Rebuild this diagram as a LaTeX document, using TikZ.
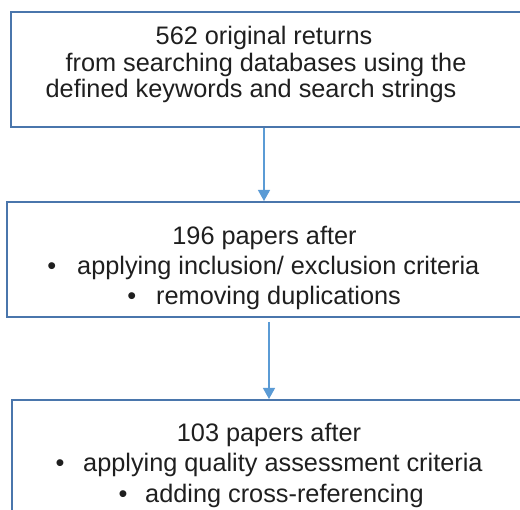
\documentclass[tikz,border=0pt]{standalone}
\usepackage{fontspec}
\setmainfont{Liberation Sans}
\usetikzlibrary{arrows.meta}
\definecolor{boxblue}{HTML}{4A76AC}
\definecolor{arrowblue}{HTML}{5B9BD5}
\begin{document}
\begin{tikzpicture}[x=1pt,y=-1pt,
  stagebox/.style={draw=boxblue, line width=2pt, fill=white, inner sep=0pt, anchor=north west},
  txt/.style={font=\fontsize{25.3}{28}\selectfont, inner sep=0pt, text=black!88},
  ctr/.style={txt, anchor=base},
  lft/.style={txt, anchor=base west},
  flow/.style={draw=arrowblue, line width=1.2pt, -{Triangle[width=12pt,length=11pt]}}]
\useasboundingbox (0,0) rectangle (520,510);
\clip (0,0) rectangle (520,510);
\fill[white] (0,0) rectangle (520,510);

% the three stages, running off the right and bottom edges
\node[stagebox, minimum width=530pt, minimum height=115pt] (b1) at (10,11) {};
\node[stagebox, minimum width=535pt, minimum height=115pt] (b2) at (5.5,201) {};
\node[stagebox, minimum width=530pt, minimum height=140pt] (b3) at (10.5,399) {};

% stage 1
\node[ctr] (t11) at (264,45) {562 original returns};
\node[ctr] (t12) at (266,71.5) {from searching databases using the};
\node[ctr] (t13) at (251,98) {defined keywords and search strings};

% stage 2
\node[ctr] (t21) at (264.5,245) {196 papers after};
\node[ctr] (u22) at (51.7,275) {•};
\node[lft] (t22) at (77,275) {applying inclusion/ exclusion criteria};
\node[ctr] (u23) at (131.7,305) {•};
\node[lft] (t23) at (156,305) {removing duplications};

% stage 3
\node[ctr] (t31) at (269,442) {103 papers after};
\node[ctr] (u32) at (60,472) {•};
\node[lft] (t32) at (83,472) {applying quality assessment criteria};
\node[ctr] (u33) at (123,502.5) {•};
\node[lft] (t33) at (145,502.5) {adding cross-referencing};

% connectors
\coordinate (x1) at (264,0);
\coordinate (x2) at (269,0);
\draw[flow] (x1 |- b1.south) -- (x1 |- b2.north);
\draw[flow, shorten <=4pt] (x2 |- b2.south) -- (x2 |- b3.north);
\end{tikzpicture}
\end{document}
